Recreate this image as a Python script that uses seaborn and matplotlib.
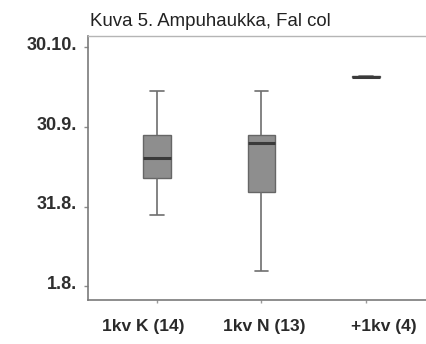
import matplotlib
matplotlib.use("Agg")
import matplotlib.pyplot as plt
import matplotlib.transforms as mtransforms
import seaborn as sns
import pandas as pd

# Data (day-of-year values; five-number summaries)
groups = ["1kv K (14)", "1kv N (13)", "+1kv (4)"]
k_days = [239.9, 253.8, 261.3, 270.1, 286.7]
n_days = [218.9, 248.7, 267.2, 270.1, 286.7]
plus_days = [291.7, 291.8, 292.0, 292.1, 292.3]

ytick_values = [213, 243, 273, 303]
ytick_labels = ["1.8.", "31.8.", "30.9.", "30.10."]
title = "Kuva 5. Ampuhaukka, Fal col"

df = pd.DataFrame({
    "group": [groups[0]] * len(k_days) + [groups[1]] * len(n_days) + [groups[2]] * len(plus_days),
    "day": k_days + n_days + plus_days,
})

sns.set_style("white")
plt.rcParams["font.family"] = ["Liberation Sans", "DejaVu Sans"]

W, H = 427, 344
fig = plt.figure(figsize=(W / 100, H / 100), dpi=100)
left, right, top, bottom = 88, 427, 36, 300
ax = fig.add_axes([left / W, 1 - bottom / H, (right - left) / W, (bottom - top) / H])

sns.boxplot(
    data=df, x="group", y="day", order=groups, ax=ax,
    width=0.26, whis=(0, 100), color="#8e8e8e", saturation=1,
    linewidth=1.0, linecolor="#5e5e5e",
    boxprops=dict(facecolor="#8e8e8e", edgecolor="#666666"),
    whiskerprops=dict(color="#6e6e6e", linewidth=1.2),
    capprops=dict(color="#6e6e6e", linewidth=1.2),
    medianprops=dict(color="#3a3a3a", linewidth=2.2),
)

ax.set_xlim(-0.66, 2.584)
ax.set_ylim(207.9, 307.3)
ax.set_yticks(ytick_values)
ax.set_yticklabels(ytick_labels)
ax.set_xlabel("")
ax.set_ylabel("")

for side in ["left", "bottom"]:
    ax.spines[side].set_color("#7a7a7a")
    ax.spines[side].set_linewidth(1.2)
ax.spines["top"].set_color("#b5b5b5")
ax.spines["top"].set_linewidth(1.0)
ax.spines["right"].set_visible(False)

ax.tick_params(axis="y", left=True, length=3, width=1, color="#8a8a8a", pad=5,
               labelsize=13, labelcolor="#2e2e2e")
ax.tick_params(axis="x", bottom=True, length=2.5, width=1, color="#9a9a9a", pad=11,
               labelsize=12.5, labelcolor="#2a2a2a")
for lab in ax.get_yticklabels():
    lab.set_fontweight("bold")
    lab.set_transform(lab.get_transform() + mtransforms.ScaledTranslation(0, 4 / 100, fig.dpi_scale_trans))
x_offsets_px = [-14, 3, 18]
for lab, dx in zip(ax.get_xticklabels(), x_offsets_px):
    lab.set_fontweight("bold")
    lab.set_transform(lab.get_transform() + mtransforms.ScaledTranslation(dx / 100, 0, fig.dpi_scale_trans))

ax.set_title(title, loc="left", fontsize=13.4, color="#222222", pad=7,
             x=2 / (right - left))

fig.savefig("out.png", dpi=100, facecolor="white")
